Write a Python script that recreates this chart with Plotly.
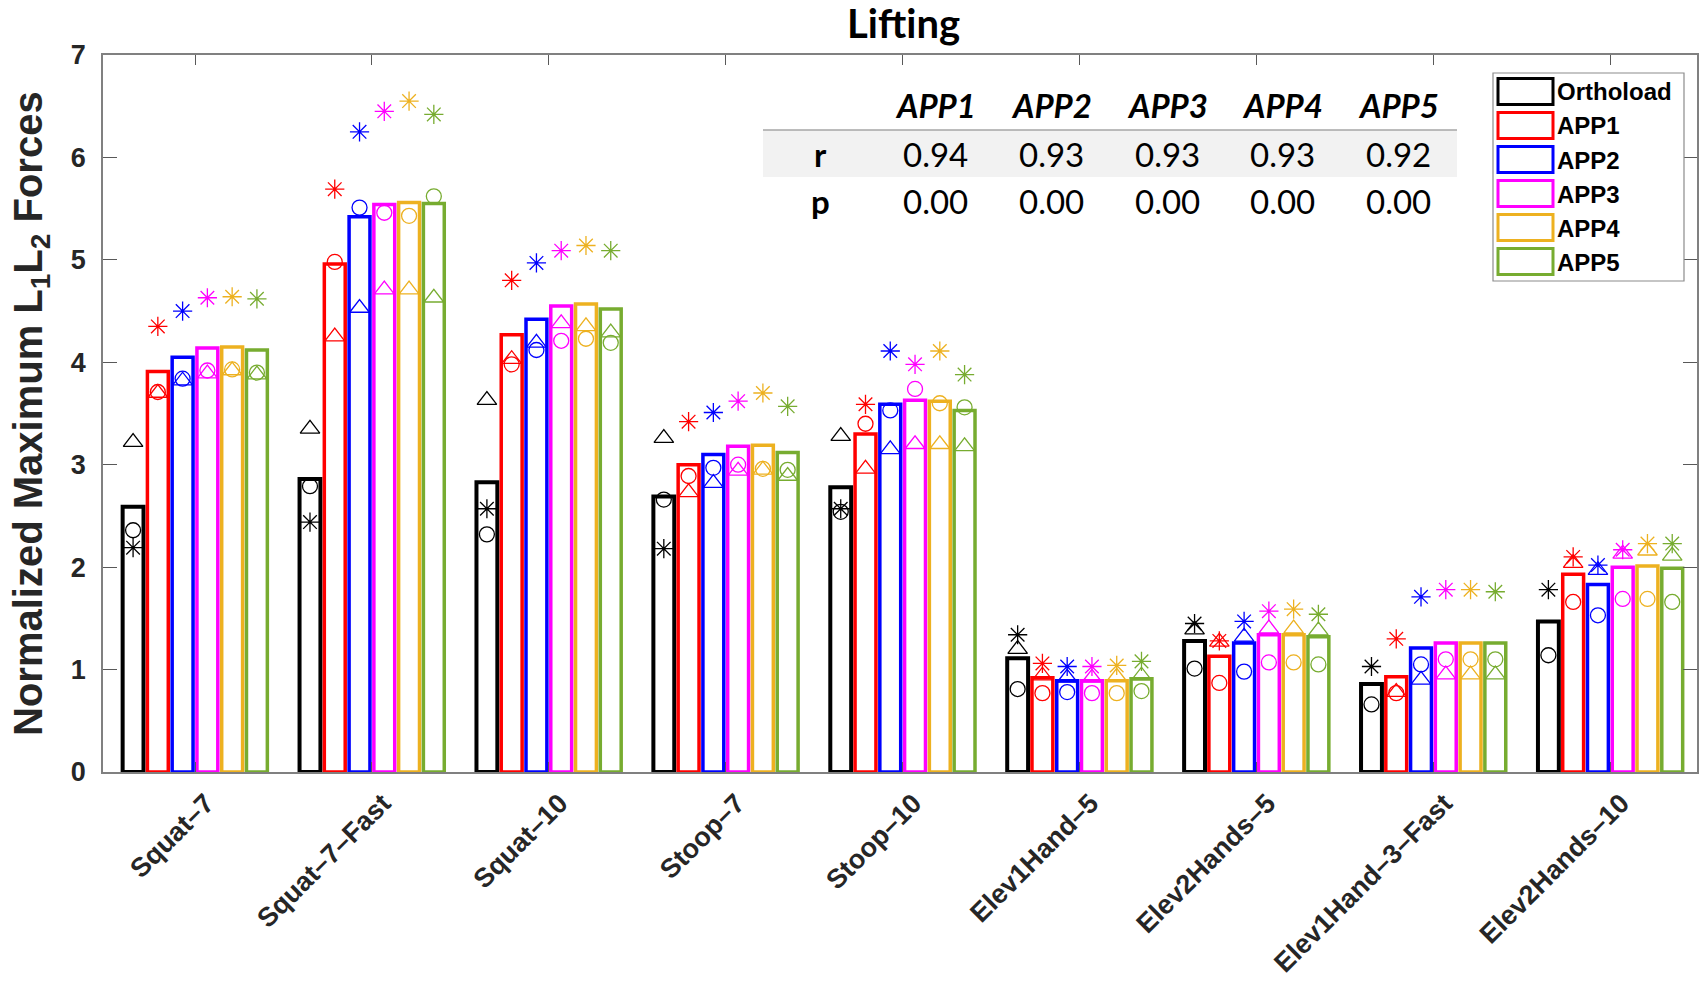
import plotly.graph_objects as go

# ---------------- data ----------------
CATEGORIES = ["Squat–7", "Squat–7–Fast", "Squat–10", "Stoop–7", "Stoop–10",
              "Elev1Hand–5", "Elev2Hands–5", "Elev1Hand–3–Fast", "Elev2Hands–10"]
SERIES_NAMES = ["Orthoload", "APP1", "APP2", "APP3", "APP4", "APP5"]
SERIES_COLORS = ["#000000", "#ff0000", "#0000ff", "#ff00ff", "#edb120", "#77ac30"]

ORTHO_BAR = [2.59, 2.86, 2.83, 2.69, 2.78, 1.11, 1.28, 0.86, 1.47]
ORTHO_TRI = [3.22, 3.35, 3.63, 3.26, 3.28, 1.20, 1.39, None, None]
ORTHO_CIRC = [2.36, 2.79, 2.32, 2.66, 2.54, 0.81, 1.01, 0.66, 1.14]
ORTHO_AST = [2.19, 2.44, 2.57, 2.18, 2.57, 1.34, 1.45, 1.03, 1.78]

APP1_BAR = [3.91, 4.96, 4.27, 3.00, 3.30, 0.92, 1.13, 0.93, 1.93]
APP1_TRI = [3.70, 4.25, 4.03, 2.73, 2.96, 0.94, 1.27, 0.78, 2.04]
APP1_CIRC = [3.71, 4.98, 3.98, 2.89, 3.40, 0.77, 0.87, 0.77, 1.66]
APP1_AST = [4.35, 5.69, 4.80, 3.42, 3.59, 1.06, 1.28, 1.30, 2.10]

APP2_BAR = [4.05, 5.42, 4.42, 3.10, 3.59, 0.89, 1.26, 1.21, 1.83]
APP2_TRI = [3.82, 4.53, 4.19, 2.82, 3.15, 0.92, 1.32, 0.90, 1.97]
APP2_CIRC = [3.84, 5.51, 4.12, 2.97, 3.53, 0.78, 0.98, 1.05, 1.53]
APP2_AST = [4.50, 6.25, 4.97, 3.51, 4.11, 1.03, 1.47, 1.71, 2.02]

APP3_BAR = [4.14, 5.54, 4.55, 3.18, 3.63, 0.89, 1.34, 1.26, 2.00]
APP3_TRI = [3.89, 4.71, 4.38, 2.94, 3.20, 0.92, 1.40, 0.95, 2.13]
APP3_CIRC = [3.92, 5.46, 4.21, 3.00, 3.74, 0.77, 1.07, 1.10, 1.69]
APP3_AST = [4.63, 6.45, 5.09, 3.62, 3.98, 1.03, 1.57, 1.78, 2.17]

APP4_BAR = [4.15, 5.56, 4.57, 3.19, 3.62, 0.89, 1.34, 1.26, 2.01]
APP4_TRI = [3.92, 4.71, 4.35, 2.95, 3.20, 0.93, 1.40, 0.95, 2.16]
APP4_CIRC = [3.93, 5.43, 4.23, 2.96, 3.60, 0.77, 1.07, 1.10, 1.69]
APP4_AST = [4.64, 6.55, 5.14, 3.70, 4.11, 1.04, 1.59, 1.78, 2.23]

APP5_BAR = [4.12, 5.55, 4.52, 3.12, 3.53, 0.91, 1.32, 1.26, 1.99]
APP5_TRI = [3.88, 4.63, 4.29, 2.89, 3.18, 0.94, 1.38, 0.95, 2.11]
APP5_CIRC = [3.90, 5.62, 4.19, 2.95, 3.56, 0.79, 1.05, 1.10, 1.66]
APP5_AST = [4.62, 6.42, 5.09, 3.57, 3.88, 1.08, 1.54, 1.76, 2.23]

TABLE_COLS = ["APP1", "APP2", "APP3", "APP4", "APP5"]
TABLE_R = ["0.94", "0.93", "0.93", "0.93", "0.92"]
TABLE_P = ["0.00", "0.00", "0.00", "0.00", "0.00"]

BARS = [ORTHO_BAR, APP1_BAR, APP2_BAR, APP3_BAR, APP4_BAR, APP5_BAR]
TRIS = [ORTHO_TRI, APP1_TRI, APP2_TRI, APP3_TRI, APP4_TRI, APP5_TRI]
CIRCS = [ORTHO_CIRC, APP1_CIRC, APP2_CIRC, APP3_CIRC, APP4_CIRC, APP5_CIRC]
ASTS = [ORTHO_AST, APP1_AST, APP2_AST, APP3_AST, APP4_AST, APP5_AST]

# ---------------- geometry ----------------
W, H = 1699, 983
ML, MR, MT, MB = 103, 2, 55, 211
PW = W - ML - MR
PH = H - MT - MB


def px2x(px):
    return (px - ML) / PW


def px2y(py):
    return (H - MB - py) / PH


SLOT = 0.14
BARW = 0.118
AXFONT = "Liberation Sans, Arial, sans-serif"
TFONT = "Lato, sans-serif"

fig = go.Figure()

for k, name in enumerate(SERIES_NAMES):
    color = SERIES_COLORS[k]
    xs = [i + 1 + (k - 2.5) * SLOT for i in range(len(CATEGORIES))]
    fig.add_trace(go.Bar(
        x=xs, y=BARS[k], width=BARW, name=name, showlegend=False,
        marker=dict(color="rgba(0,0,0,0)",
                    line=dict(color=color, width=4 if k == 0 else 3.5)),
    ))

for k, name in enumerate(SERIES_NAMES):
    color = SERIES_COLORS[k]
    xs = [i + 1 + (k - 2.5) * SLOT for i in range(len(CATEGORIES))]
    for vals, sym, size in ((CIRCS[k], "circle-open", 15),
                            (TRIS[k], "triangle-up-open", 17),
                            (ASTS[k], "asterisk-open", 16)):
        fig.add_trace(go.Scatter(
            x=xs, y=vals, mode="markers", showlegend=False, name=name,
            marker=dict(symbol=sym, size=size, color=color,
                        line=dict(color=color, width=1.3)),
        ))

shapes = []
annotations = []

# title
annotations.append(dict(text="Lifting", x=px2x(903), y=px2y(23), xref="paper", yref="paper",
                        xanchor="center", yanchor="middle", showarrow=False,
                        font=dict(family=TFONT, size=40, weight="bold", color="#000000")))
# y-axis title
annotations.append(dict(text="Normalized Maximum L<sub>1</sub>L<sub>2</sub> Forces",
                        x=px2x(31), y=px2y(414), xref="paper", yref="paper",
                        xanchor="center", yanchor="middle", textangle=-90, showarrow=False,
                        font=dict(family=AXFONT, size=40, weight="bold", color="#262626")))

# table
shapes.append(dict(type="rect", xref="paper", yref="paper",
                   x0=px2x(763), x1=px2x(1457), y0=px2y(177), y1=px2y(130),
                   fillcolor="#f2f2f2", line=dict(width=0), layer="below"))
shapes.append(dict(type="line", xref="paper", yref="paper",
                   x0=px2x(763), x1=px2x(1457), y0=px2y(130), y1=px2y(130),
                   line=dict(color="#a6a6a6", width=1.5)))
COL_X0, COL_DX = 936, 115.6
for j, col in enumerate(TABLE_COLS):
    cx = px2x(COL_X0 + COL_DX * j)
    annotations.append(dict(text=col, x=cx, y=px2y(105), xref="paper", yref="paper",
                            xanchor="center", yanchor="middle", showarrow=False,
                            font=dict(family=TFONT, size=33, weight="bold", style="italic",
                                      color="#000000")))
    annotations.append(dict(text=TABLE_R[j], x=cx, y=px2y(154), xref="paper", yref="paper",
                            xanchor="center", yanchor="middle", showarrow=False,
                            font=dict(family=TFONT, size=33, color="#000000")))
    annotations.append(dict(text=TABLE_P[j], x=cx, y=px2y(201), xref="paper", yref="paper",
                            xanchor="center", yanchor="middle", showarrow=False,
                            font=dict(family=TFONT, size=33, color="#000000")))
for lbl, py in (("r", 154), ("p", 201)):
    annotations.append(dict(text=lbl, x=px2x(820), y=px2y(py), xref="paper", yref="paper",
                            xanchor="center", yanchor="middle", showarrow=False,
                            font=dict(family=TFONT, size=33, weight="bold", color="#000000")))

# legend (drawn)
shapes.append(dict(type="rect", xref="paper", yref="paper",
                   x0=px2x(1493), x1=px2x(1684), y0=px2y(281), y1=px2y(73),
                   fillcolor="white", line=dict(color="#8c8c8c", width=1.2)))
for k, name in enumerate(SERIES_NAMES):
    top = 78.5 + 34 * k
    shapes.append(dict(type="rect", xref="paper", yref="paper",
                       x0=px2x(1498), x1=px2x(1553), y0=px2y(top + 26), y1=px2y(top),
                       fillcolor="rgba(0,0,0,0)",
                       line=dict(color=SERIES_COLORS[k], width=3)))
    annotations.append(dict(text=name, x=px2x(1555), y=px2y(top + 13.5), xref="paper",
                            yref="paper", xanchor="left", yanchor="middle", showarrow=False,
                            font=dict(family=AXFONT, size=24, weight="bold", color="#000000")))

fig.update_layout(
    width=W, height=H,
    margin=dict(l=ML, r=MR, t=MT, b=MB),
    plot_bgcolor="white", paper_bgcolor="white",
    barmode="overlay", showlegend=False,
    shapes=shapes, annotations=annotations,
    xaxis=dict(range=[0.48, 9.49], tickmode="array",
               tickvals=list(range(1, len(CATEGORIES) + 1)), ticktext=CATEGORIES,
               tickangle=-45, ticks="inside", ticklen=10, tickcolor="#595959", tickwidth=1.2,
               showline=True, linecolor="#808080", linewidth=1.5, mirror="ticks",
               showgrid=False, zeroline=False, automargin=False,
               ticklabelstandoff=3, ticklabelshift=11,
               tickfont=dict(family=AXFONT, size=27, weight="bold", color="#262626")),
    yaxis=dict(range=[0, 7], dtick=1, tick0=0, ticks="inside", ticklen=14,
               tickcolor="#595959", tickwidth=1.2,
               showline=True, linecolor="#808080", linewidth=1.5, mirror="ticks",
               showgrid=False, zeroline=False, ticklabelstandoff=10, automargin=False,
               tickfont=dict(family=AXFONT, size=27, weight="bold", color="#262626")),
)

fig.write_html("out.html",
               config={"displayModeBar": False},
               post_script="document.body.style.margin='0px';"
                           "document.body.style.overflow='hidden';")
